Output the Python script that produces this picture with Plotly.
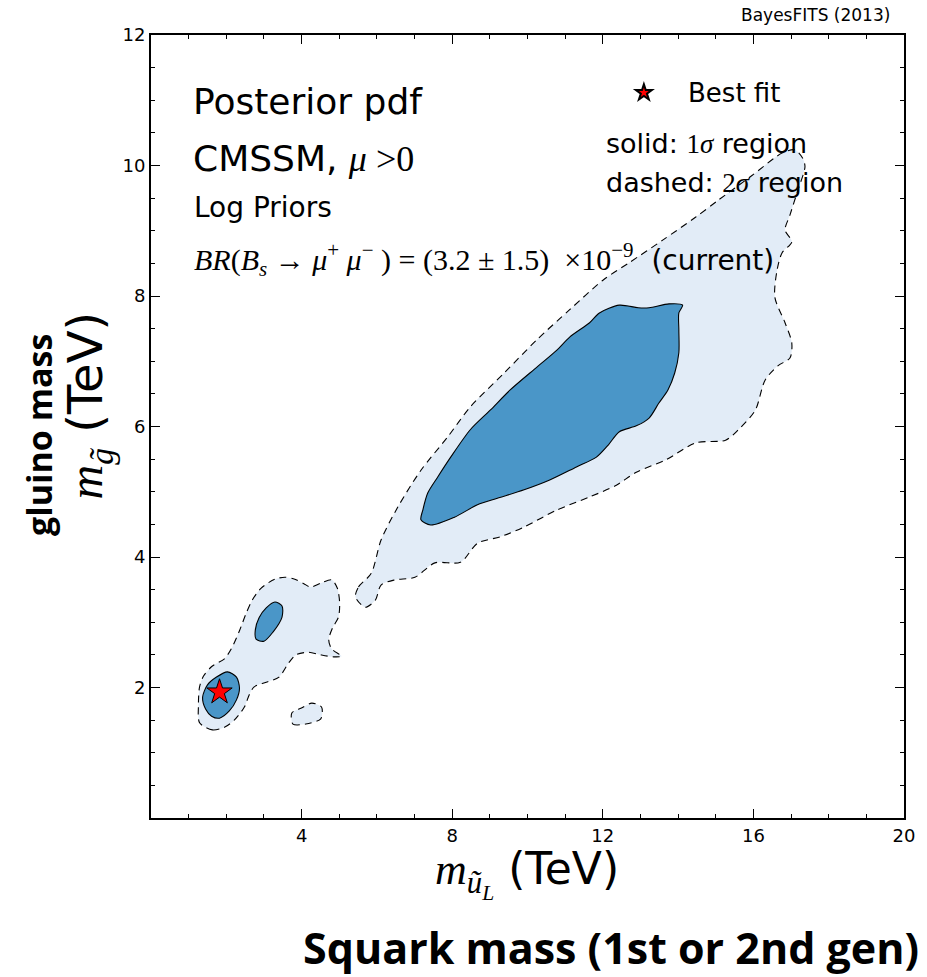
import plotly.graph_objects as go

# ---------------- data (TeV) ----------------
# 2-sigma (dashed) regions
big2_x = [5.43, 5.51, 5.85, 6.11, 6.56, 7.17, 7.88, 8.48, 9.38, 10.25, 11.12, 12.02, 12.70, 13.60, 14.47,
          15.07, 15.97, 16.76, 17.10, 17.31, 17.37, 17.18, 16.97, 16.84, 17.02, 16.76, 16.63, 16.57, 16.84,
          17.02, 16.97, 16.65, 16.31, 16.05, 15.60, 15.26, 14.47, 13.68, 12.89, 12.36, 11.65, 10.78, 9.91,
          9.28, 8.67, 8.22, 7.54, 7.01, 6.48, 6.11, 5.96, 5.69, 5.43]
big2_y = [3.39, 3.54, 3.75, 4.26, 4.77, 5.33, 5.84, 6.30, 6.82, 7.33, 7.79, 8.25, 8.51, 8.86, 9.21,
          9.47, 9.85, 10.19, 10.24, 10.11, 9.98, 9.62, 9.24, 9.01, 8.83, 8.66, 8.40, 7.98, 7.59,
          7.28, 7.05, 6.93, 6.71, 6.25, 5.95, 5.79, 5.75, 5.49, 5.30, 5.10, 4.92, 4.72, 4.46,
          4.31, 4.21, 3.92, 3.91, 3.69, 3.65, 3.57, 3.34, 3.23, 3.39]

low2_x = [1.29, 1.63, 1.95, 2.21, 2.48, 2.61, 2.74, 3.06, 3.40, 3.66, 3.85, 4.19, 4.51, 4.85, 5.06,
          4.80, 4.72, 4.82, 4.98, 5.01, 4.95, 4.80, 4.51, 4.24, 4.06, 3.82, 3.56, 3.29, 2.92, 2.69,
          2.53, 2.35, 2.13, 1.95, 1.63, 1.40, 1.29, 1.26, 1.29]
low2_y = [1.46, 1.35, 1.39, 1.50, 1.70, 1.89, 2.01, 2.08, 2.16, 2.38, 2.50, 2.54, 2.50, 2.47, 2.48,
          2.59, 2.73, 2.91, 3.08, 3.30, 3.52, 3.65, 3.60, 3.54, 3.59, 3.66, 3.69, 3.66, 3.52, 3.34,
          3.14, 2.87, 2.59, 2.44, 2.33, 2.18, 2.01, 1.73, 1.46]

isl2_x = [3.74, 3.77, 4.11, 4.51, 4.53, 4.27, 4.01, 3.74]
isl2_y = [1.61, 1.44, 1.44, 1.52, 1.70, 1.76, 1.69, 1.61]

# 1-sigma (solid) regions
big1_x = [7.17, 7.43, 8.06, 8.67, 9.20, 9.91, 10.59, 11.30, 11.83, 12.15, 12.44, 12.89, 13.23, 13.49,
          13.73, 13.91, 14.02, 14.02, 14.02, 14.12, 13.76, 13.23, 12.94, 12.44, 11.91, 11.65, 11.12,
          10.78, 10.25, 9.54, 9.01, 8.48, 7.96, 7.62, 7.35, 7.22, 7.17]
big1_y = [4.57, 4.49, 4.61, 4.80, 4.90, 5.03, 5.18, 5.38, 5.53, 5.72, 5.92, 6.01, 6.13, 6.36,
          6.56, 6.82, 7.13, 7.48, 7.74, 7.86, 7.88, 7.82, 7.82, 7.86, 7.74, 7.59, 7.37,
          7.17, 6.91, 6.56, 6.25, 5.95, 5.53, 5.23, 4.98, 4.72, 4.57]

low1_x = [1.37, 1.45, 1.61, 1.82, 2.08, 2.27, 2.35, 2.27, 2.03, 1.74, 1.50, 1.37]
low1_y = [1.85, 1.67, 1.56, 1.53, 1.64, 1.81, 1.99, 2.16, 2.24, 2.16, 2.04, 1.85]

mid1_x = [2.79, 3.00, 3.24, 3.48, 3.48, 3.29, 3.06, 2.87, 2.77, 2.79]
mid1_y = [2.74, 2.71, 2.85, 3.08, 3.25, 3.31, 3.22, 3.07, 2.88, 2.74]

best_x = [1.82]
best_y = [1.93]

x_ticks = [4, 8, 12, 16, 20]
y_ticks = [2, 4, 6, 8, 10, 12]

LIGHT = "#e2ecf7"
DARK = "#4a96c8"
SERIF = "Liberation Serif"

fig = go.Figure()

for xs, ys in [(big2_x, big2_y), (low2_x, low2_y), (isl2_x, isl2_y)]:
    fig.add_trace(go.Scatter(x=xs, y=ys, mode="lines", fill="toself", fillcolor=LIGHT,
                             line=dict(color="black", width=1.1, dash="7px,5px", shape="spline", smoothing=0.8),
                             showlegend=False, hoverinfo="skip"))
for xs, ys in [(big1_x, big1_y), (low1_x, low1_y), (mid1_x, mid1_y)]:
    fig.add_trace(go.Scatter(x=xs, y=ys, mode="lines", fill="toself", fillcolor=DARK,
                             line=dict(color="black", width=1.1, shape="spline", smoothing=0.8),
                             showlegend=False, hoverinfo="skip"))

fig.add_trace(go.Scatter(x=best_x, y=best_y, mode="markers", name="",
                         marker=dict(symbol="star", size=19, color="red", line=dict(color="black", width=1)),
                         showlegend=True))

fig.update_layout(
    width=927, height=977,
    margin=dict(l=151, r=17, t=35, b=159),
    paper_bgcolor="white", plot_bgcolor="white",
    font=dict(family="DejaVu Sans", size=18, color="black"),
    legend=dict(x=0.628, y=0.926, xanchor="left", yanchor="middle", bgcolor="rgba(0,0,0,0)",
                font=dict(size=25), itemsizing="constant"),
)

axis_common = dict(showgrid=False, zeroline=False, showline=True, linecolor="black", linewidth=2,
                   mirror="allticks", ticks="inside", ticklen=9, tickwidth=1.2, tickcolor="black",
                   tickfont=dict(size=18, family="DejaVu Sans"))
fig.update_xaxes(range=[0, 20], tickvals=x_ticks, ticktext=[str(v) for v in x_ticks],
                 minor=dict(dtick=1, ticks="inside", ticklen=4, tickcolor="black", tickwidth=1),
                 **axis_common)
fig.update_yaxes(range=[0, 12], tickvals=y_ticks, ticktext=[str(v) for v in y_ticks],
                 minor=dict(dtick=0.5, ticks="inside", ticklen=4, tickcolor="black", tickwidth=1),
                 **axis_common)

def px_x(p):
    return (p - 151) / 759.0

def px_y(p):
    return (818 - p) / 783.0

ann = []
ann.append(dict(text="BayesFITS (2013)", x=px_x(898), y=px_y(15), xanchor="right", yanchor="middle",
                font=dict(size=17)))
ann.append(dict(text="Best fit", x=px_x(690), y=px_y(93), xanchor="left", yanchor="middle",
                font=dict(size=26)))
ann.append(dict(text="Posterior pdf", x=px_x(191), y=px_y(101), xanchor="left", yanchor="middle",
                font=dict(size=36)))
ann.append(dict(text="CMSSM, <span style='font-family:%s'><i>μ</i> &gt;0</span>" % SERIF,
                x=px_x(191), y=px_y(158), xanchor="left", yanchor="middle", font=dict(size=36)))
ann.append(dict(text="Log Priors", x=px_x(192), y=px_y(207), xanchor="left", yanchor="middle",
                font=dict(size=28)))
ann.append(dict(text=("<span style='font-family:%s;font-size:30px'><i>BR</i>(<i>B</i><sub><i>s</i></sub> → "
                      "<i>μ</i><sup>+</sup> <i>μ</i><sup>−</sup> ) = (3.2 ± 1.5)  ×10<sup>−9</sup></span>"
                      "  (current)") % SERIF,
                x=px_x(192), y=px_y(259), xanchor="left", yanchor="middle", font=dict(size=28)))
ann.append(dict(text="solid: <span style='font-family:%s'>1<i>σ</i></span> region" % SERIF,
                x=px_x(608), y=px_y(143), xanchor="left", yanchor="middle", font=dict(size=27)))
ann.append(dict(text="dashed: <span style='font-family:%s'>2<i>σ</i></span> region" % SERIF,
                x=px_x(608), y=px_y(182), xanchor="left", yanchor="middle", font=dict(size=27)))
# axis titles
ann.append(dict(text="<span style='font-family:%s'><i>m</i><sub><i>ũ</i><sub><i>L</i></sub></sub></span> (TeV)" % SERIF,
                x=px_x(530), y=px_y(874), xanchor="center", yanchor="middle", font=dict(size=44)))
ann.append(dict(text="<b>Squark mass (1st or 2nd gen)</b>", x=px_x(615), y=px_y(947),
                xanchor="center", yanchor="middle", font=dict(size=43, family="Open Sans")))
ann.append(dict(text="<span style='font-family:%s'><i>m</i><sub><i>g̃</i></sub></span> (TeV)" % SERIF,
                x=px_x(88), y=px_y(405), xanchor="center", yanchor="middle", textangle=-90,
                font=dict(size=48)))
ann.append(dict(text="<b>gluino mass</b>", x=px_x(38), y=px_y(435), xanchor="center", yanchor="middle",
                textangle=-90, font=dict(size=34, family="Open Sans")))

for a in ann:
    a.update(xref="paper", yref="paper", showarrow=False)
fig.update_layout(annotations=ann)

fig.write_html("out.html")
